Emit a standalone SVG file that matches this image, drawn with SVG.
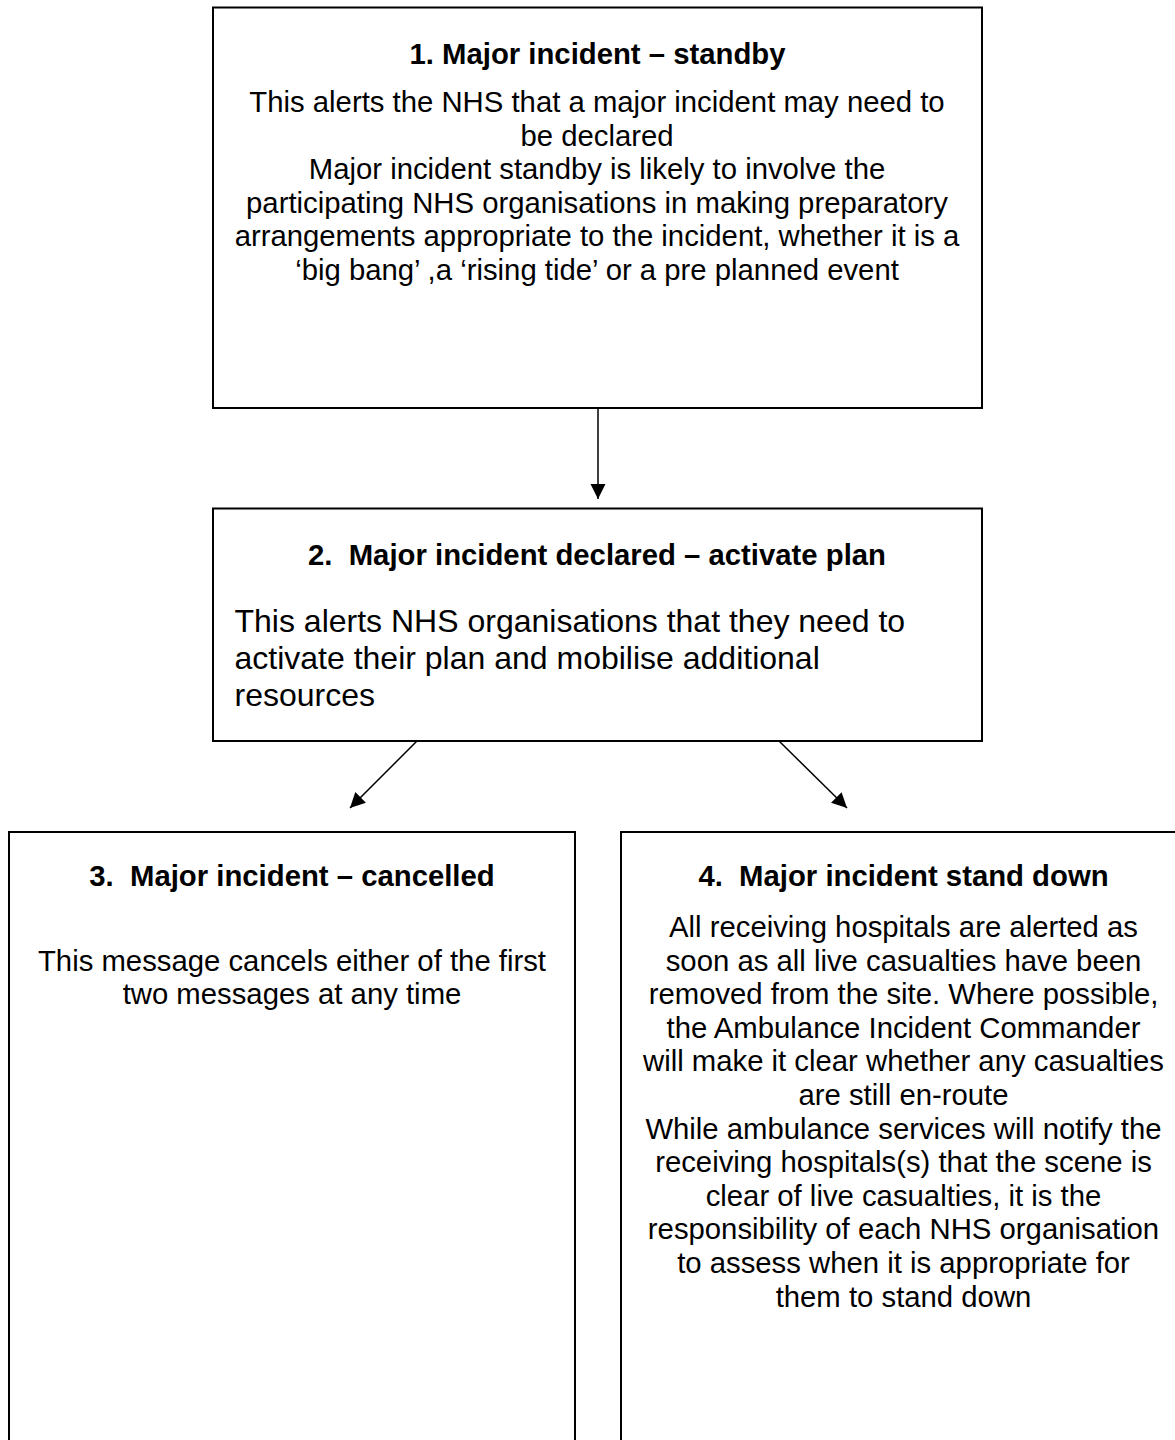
<svg xmlns="http://www.w3.org/2000/svg" width="1175" height="1440" viewBox="0 0 1175 1440">
<style>
  .box { fill: #ffffff; stroke: #000000; stroke-width: 2; }
  .t { font-family: "Liberation Sans", Arial, sans-serif; font-size: 29.3px; fill: #000000; white-space: pre; }
  .title { font-weight: bold; text-anchor: middle; }
  .c { text-anchor: middle; }
  .big { font-size: 32px; }
  .conn { stroke: #000000; stroke-width: 1.5; fill: none; marker-end: url(#arrow); }
</style>
<defs>
  <marker id="arrow" markerUnits="userSpaceOnUse" markerWidth="16" markerHeight="16" refX="15" refY="7.5" orient="auto">
    <path d="M0,0 L15,7.5 L0,15 z" fill="#000000"/>
  </marker>
</defs>
<rect width="1175" height="1440" fill="#ffffff"/>

<g id="node1">
  <rect class="box" x="213" y="7.5" width="769" height="400.5"/>
  <text class="t title" x="597.5" y="63.5">1. Major incident – standby</text>
  <text class="t c" x="597" y="112">This alerts the NHS that a major incident may need to</text>
  <text class="t c" x="597" y="145.6">be declared</text>
  <text class="t c" x="597" y="179.2">Major incident standby is likely to involve the</text>
  <text class="t c" x="597" y="212.8">participating NHS organisations in making preparatory</text>
  <text class="t c" x="597" y="246.4">arrangements appropriate to the incident, whether it is a</text>
  <text class="t c" x="597" y="280">‘big bang’ ,a ‘rising tide’ or a pre planned event</text>
</g>

<g id="node2">
  <rect class="box" x="213" y="508.5" width="769" height="232.5"/>
  <text class="t title" x="597" y="564.5">2.  Major incident declared – activate plan</text>
  <text class="t big" x="234.5" y="632">This alerts NHS organisations that they need to</text>
  <text class="t big" x="234.5" y="668.8">activate their plan and mobilise additional</text>
  <text class="t big" x="234.5" y="705.6">resources</text>
</g>

<g id="node3">
  <rect class="box" x="9" y="832" width="566" height="640"/>
  <text class="t title" x="292" y="886">3.  Major incident – cancelled</text>
  <text class="t c" x="292" y="970.5">This message cancels either of the first</text>
  <text class="t c" x="292" y="1004.1">two messages at any time</text>
</g>

<g id="node4">
  <rect class="box" x="621" y="832" width="566" height="640"/>
  <text class="t title" x="903.5" y="886">4.  Major incident stand down</text>
  <text class="t c" x="903.5" y="937">All receiving hospitals are alerted as</text>
  <text class="t c" x="903.5" y="970.6">soon as all live casualties have been</text>
  <text class="t c" x="903.5" y="1004.2">removed from the site. Where possible,</text>
  <text class="t c" x="903.5" y="1037.8">the Ambulance Incident Commander</text>
  <text class="t c" x="903.5" y="1071.4">will make it clear whether any casualties</text>
  <text class="t c" x="903.5" y="1105">are still en-route</text>
  <text class="t c" x="903.5" y="1138.6">While ambulance services will notify the</text>
  <text class="t c" x="903.5" y="1172.2">receiving hospitals(s) that the scene is</text>
  <text class="t c" x="903.5" y="1205.8">clear of live casualties, it is the</text>
  <text class="t c" x="903.5" y="1239.4">responsibility of each NHS organisation</text>
  <text class="t c" x="903.5" y="1273">to assess when it is appropriate for</text>
  <text class="t c" x="903.5" y="1306.6">them to stand down</text>
</g>

<g id="connectors">
  <path class="conn" d="M598,408 L598,499"/>
  <path class="conn" d="M417,741 L350,808"/>
  <path class="conn" d="M779,741 L847,808"/>
</g>
</svg>
